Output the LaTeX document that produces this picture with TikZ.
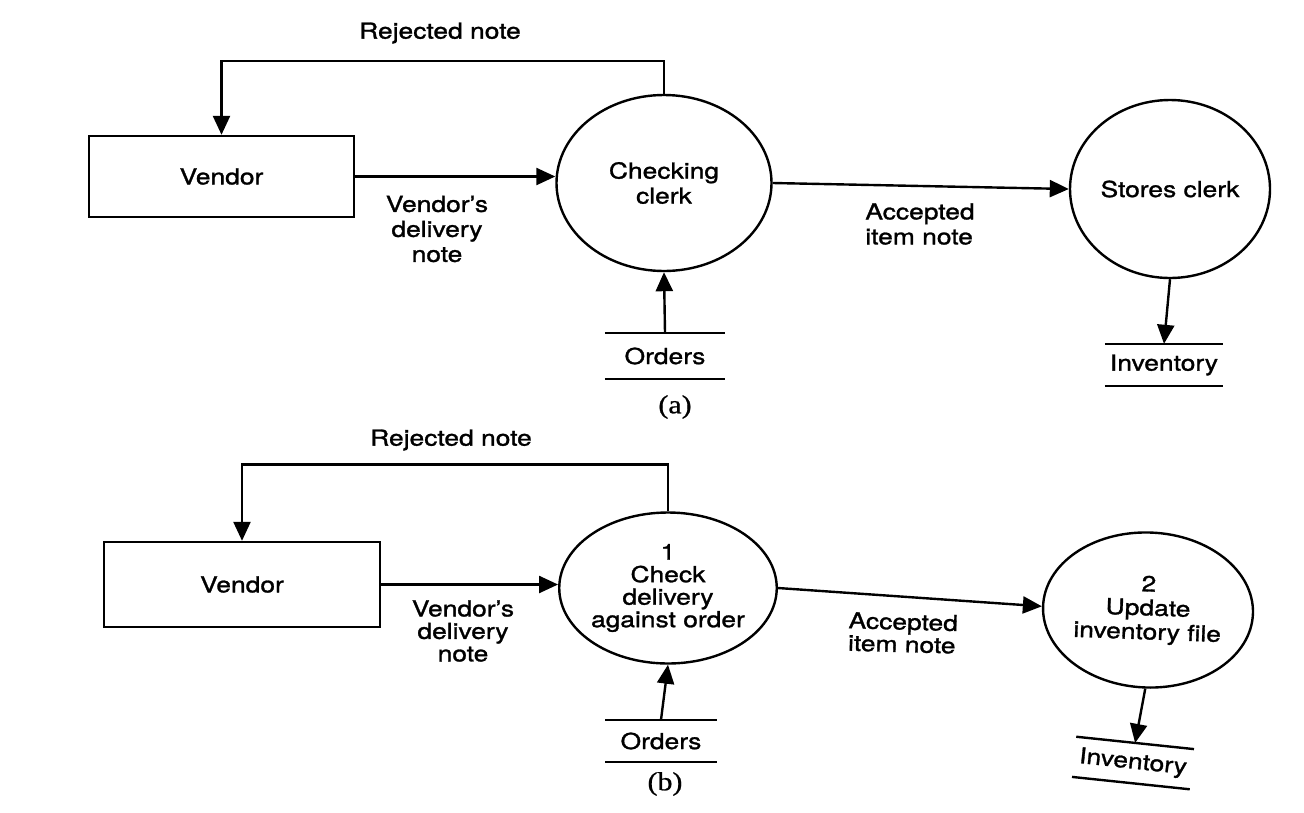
\documentclass[tikz,border=0pt]{standalone}
\usepackage{fontspec}
\setmainfont[FakeStretch=1.2,FakeBold=1.3]{TeX Gyre Heros}
\newfontfamily\capfont[FakeStretch=1.15,FakeBold=0.8]{Liberation Serif}
\usetikzlibrary{arrows.meta,shapes.geometric}
\begin{document}
\begin{tikzpicture}[x=1pt,y=-1pt,
  every node/.style={font=\fontsize{22}{25}\selectfont},
  tight/.style={font=\fontsize{22}{22.5}\selectfont},
  ln/.style={line width=2.4pt},
  flow/.style={ln,-{Triangle[length=19pt,width=17pt]}},
  entity/.style={draw,ln,rectangle,inner sep=0pt},
  proc/.style={draw,ln,ellipse,inner sep=0pt,align=center},
  store/.style={inner sep=0pt,minimum width=118pt},
  lbl/.style={align=center},
  caption/.style={font=\capfont\fontsize{26}{28}\selectfont}]

\useasboundingbox[fill=white] (0,0) rectangle (1304,812);

% ---------- (a) ----------
\node[entity,minimum width=265pt,minimum height=81pt] (va) at (221.5,176.5) {Vendor};
\node[proc,minimum width=215pt,minimum height=176pt] (a1) at (664,183) {Checking\\clerk};
\node[proc,minimum width=200pt,minimum height=178pt] (a2) at (1170,189) {Stores clerk};
\node[store,minimum width=120pt,minimum height=46pt] (orda) at (665,356) {Orders};
\node[store,minimum height=42pt] (inva) at (1164,365) {Inventory};

\draw[flow] (a1.north) -- ++(0,-33) -| (va.north);
\draw[flow] (va.east) -- (va.east -| a1.west);
\draw[flow] (a1.east) -- (a2.west);
\draw[flow] (a2.south) -- (inva.north);
\draw[flow] (orda.north) -- (a1.south);

\node (rja) at (440,33) {Rejected note};
\node[lbl] (dna) at (437,229) {Vendor’s\\delivery\\note};
\node[align=left] (aia) at (920,224) {Accepted\\item note};
\node[caption] (capa) at (675,407) {(a)};

% ---------- (b) ----------
\node[entity,minimum width=276pt,minimum height=85pt] (vb) at (242,584.5) {Vendor};
\node[proc,tight,minimum width=205pt,minimum height=151pt] (b1) at (668,588)
  {1\\Check\\delivery\\against order};
\node[proc,font=\fontsize{22}{24}\selectfont,minimum width=210pt,minimum height=155pt,rotate=-2] (b2) at (1148,610)
  {2\\Update\\inventory file};
\node[store,minimum width=111pt,minimum height=42pt] (ordb) at (661,741) {Orders};
\node[store,minimum height=40pt,rotate=-6] (invb) at (1133,763) {Inventory};

\draw[flow] (b1.north) -- ++(0,-47) -| (vb.north);
\draw[flow] (vb.east) -- (vb.east -| b1.west);
\draw[flow] (b1.east) -- (b2.west);
\draw[flow] (b2.south) -- (invb.north);
\draw[flow] (ordb.north) -- (b1.south);

\node (rjb) at (451,440) {Rejected note};
\node[lbl,tight] (dnb) at (463,631) {Vendor’s\\delivery\\note};
\node[align=left,tight,rotate=-1.5] (aib) at (903,633) {Accepted\\item note};
\node[caption] (capb) at (665,784) {(b)};

% data store bars
\foreach \s in {orda,inva,ordb,invb}
  \draw[ln] (\s.north west) -- (\s.north east) (\s.south west) -- (\s.south east);
\end{tikzpicture}
\end{document}
